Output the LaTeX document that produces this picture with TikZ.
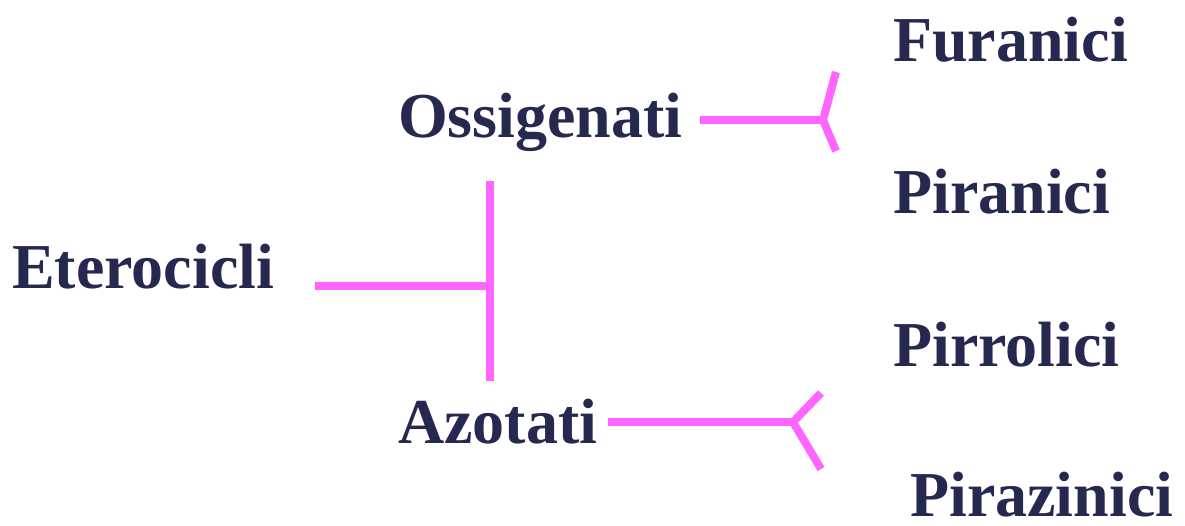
\documentclass[tikz,border=0pt]{standalone}
\usepackage{fontspec}
\setmainfont{Liberation Serif}
\definecolor{navy}{HTML}{25284F}
\definecolor{pinkline}{HTML}{FF66FF}
\begin{document}
\begin{tikzpicture}[x=1pt,y=-1pt,
  lbl/.style={anchor=base west,inner sep=0pt,text depth=0pt,text=navy,font=\fontsize{64}{70}\selectfont\bfseries},
  conn/.style={draw=pinkline,line width=8pt}]
\useasboundingbox (0,0) rectangle (1185,526);
\node[lbl] (et) at (12,289) {Eterocicli};
\node[lbl] (os) at (398,138) {Ossigenati};
\node[lbl] (az) at (398,443) {Azotati};
\node[lbl] (fu) at (893,62) {Furanici};
\node[lbl] (pi) at (893,214) {Piranici};
\node[lbl] (pr) at (893,366) {Pirrolici};
\node[lbl] (pz) at (910,516) {Pirazinici};
% main bracket
\coordinate (m0) at (315,286);
\coordinate (mj) at (490,286);
\coordinate (mt) at (490,181);
\coordinate (mb) at (490,381);
\draw[conn] (m0) -- (mj);
\draw[conn] (mt) -- (mb);
% top fork
\coordinate (o0) at (700,120);
\coordinate (oj) at (823,120);
\coordinate (ot) at (836,72);
\coordinate (ob) at (836,151);
\draw[conn] (o0) -- (oj);
\draw[conn] (ot) -- (oj) -- (ob);
% bottom fork
\coordinate (a0) at (608,422);
\coordinate (aj) at (793,422);
\coordinate (at1) at (821,393);
\coordinate (ab) at (821,469);
\draw[conn] (a0) -- (aj);
\draw[conn] (at1) -- (aj) -- (ab);
\end{tikzpicture}
\end{document}
